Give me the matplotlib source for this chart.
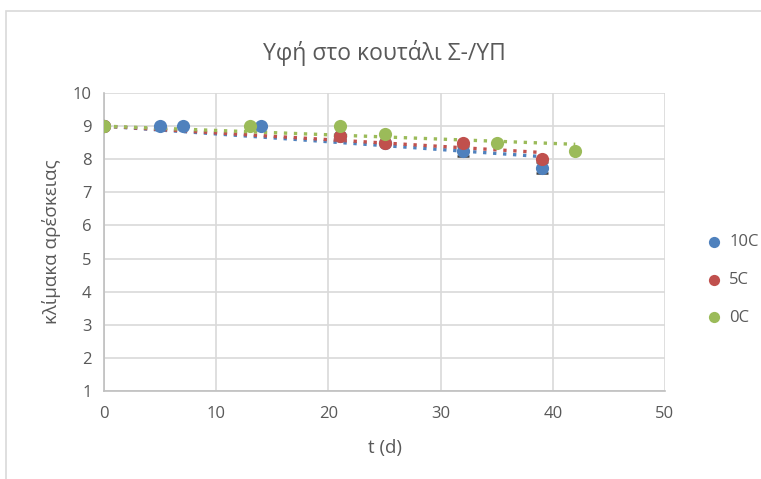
import numpy as np
import matplotlib
matplotlib.use("Agg")
import matplotlib.pyplot as plt
from matplotlib.patches import Rectangle

plt.rcParams['font.family'] = ['Open Sans', 'DejaVu Sans']

# Storage temperature series: day of measurement and liking score
t_10c = [0, 5, 7, 14, 21, 25, 32, 39]
y_10c = [9.0, 9.0, 9.0, 9.0, 8.7, 8.5, 8.25, 7.75]
err_10c = [0, 0, 0, 0, 0, 0, 0.15, 0.17]

t_5c = [0, 21, 25, 32, 39]
y_5c = [9.0, 8.7, 8.5, 8.5, 8.0]

t_0c = [0, 13, 21, 25, 35, 42]
y_0c = [9.0, 9.0, 9.0, 8.75, 8.5, 8.25]

series_names = ["10C", "5C", "0C"]
colors = ["#4F81BD", "#C0504D", "#9BBB59"]

x_ticks = [0, 10, 20, 30, 40, 50]
y_ticks = [1, 2, 3, 4, 5, 6, 7, 8, 9, 10]
trend_intercept = 9.0

fig = plt.figure(figsize=(7.61, 4.79), dpi=100)
fig.patches.append(Rectangle((6 / 761, -0.1), 1.1, (479 - 11) / 479 + 0.1,
                             transform=fig.transFigure, fill=False,
                             edgecolor="#D9D9D9", linewidth=1.2))

ax = fig.add_axes([104 / 761, (479 - 391) / 479, (665 - 104) / 761, (391 - 93) / 479])

data = [(t_10c, y_10c), (t_5c, y_5c), (t_0c, y_0c)]

# Linear trendlines (dotted) with the intercept fixed at the starting score
for (t, y), c in zip(data, colors):
    t = np.asarray(t, float)
    y = np.asarray(y, float)
    k = np.sum(t * (y - trend_intercept)) / np.sum(t * t)
    xs = np.array([0.0, t.max()])
    ax.plot(xs, trend_intercept + k * xs, linestyle=(0, (1, 2.0)), color=c,
            linewidth=2.4, zorder=2)

# Error bars on the 10C series
ax.errorbar(t_10c, y_10c, yerr=err_10c, fmt="none", ecolor="#404040",
            elinewidth=1.0, capsize=4, capthick=1.8, zorder=3)

for (t, y), c, name in zip(data, colors, series_names):
    ax.scatter(t, y, s=90, color=c, label=name, zorder=4, linewidths=0)

ax.set_xlim(0, 50)
ax.set_ylim(1, 10)
ax.set_xticks(x_ticks)
ax.set_yticks(y_ticks)
ax.grid(True, color="#D9D9D9", linewidth=1.2)
ax.set_axisbelow(True)
for side in ["top", "right"]:
    ax.spines[side].set_visible(False)
for side in ["left", "bottom"]:
    ax.spines[side].set_color("#BFBFBF")
    ax.spines[side].set_linewidth(1.2)
ax.tick_params(length=0, labelsize=12, labelcolor="#595959")
ax.tick_params(axis="x", pad=11)
ax.tick_params(axis="y", pad=9)

ax.set_title("Υφή στο κουτάλι Σ-/ΥΠ", fontsize=16.5, color="#595959", pad=24)
ax.set_xlabel("t (d)", fontsize=13.5, color="#595959", labelpad=12)
ax.set_ylabel("κλίμακα αρέσκειας", fontsize=13.5, color="#595959", labelpad=8)

leg = fig.legend(loc="center left", bbox_to_anchor=(706 / 761, (479 - 280) / 479),
                 frameon=False, fontsize=12, labelcolor="#595959",
                 handlelength=1.0, handletextpad=0.4, borderpad=0.0,
                 borderaxespad=0.0, labelspacing=1.3, markerscale=0.85)

fig.savefig("out.png", dpi=100)
